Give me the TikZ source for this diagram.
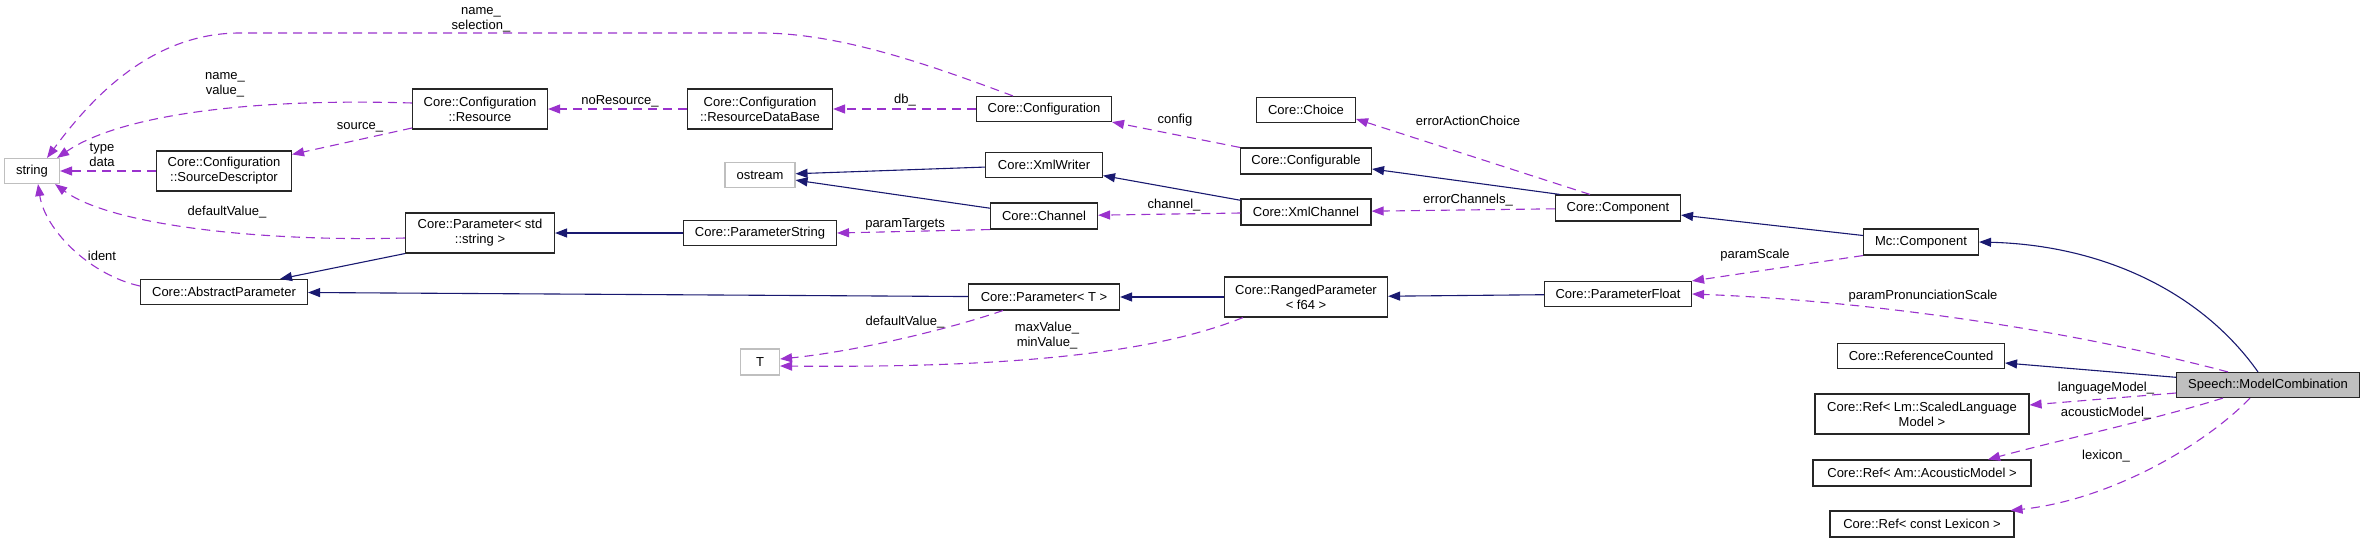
\documentclass[tikz,border=0pt]{standalone}
\usepackage{fontspec}
\setmainfont{Liberation Sans}
\usepackage{tikz}
\usetikzlibrary{arrows.meta}
\definecolor{edgeblue}{HTML}{191970}
\definecolor{edgepurple}{HTML}{9A32CD}
\definecolor{boxgray}{HTML}{BFBFBF}

\begin{document}
\begin{tikzpicture}[x=1pt,y=-1pt,
  cls/.style={draw=black!85,line width=1.1pt,fill=white,inner sep=0pt,
    align=center,font=\fontsize{13}{15}\selectfont},
  ext/.style={cls,draw=boxgray},
  lbl/.style={inner sep=0pt,align=center,font=\fontsize{13}{15}\selectfont},
  inh/.style={draw=edgeblue,line width=1.1pt,-{Triangle[length=12pt,width=9pt]}},
  usage/.style={draw=edgepurple,line width=1.1pt,dash pattern=on 9pt off 6pt,
    -{Triangle[length=12pt,width=9pt]}}]
  \useasboundingbox
    (0,0)
    rectangle
    (2365,543);
  % classes
  \node[ext,minimum width=55,minimum height=25] (str) at (32,171) {string};
  \node[cls,minimum width=135,minimum height=40] (res) at (480,109) {Core::Configuration\\::Resource};
  \node[cls,minimum width=145,minimum height=40] (resdb) at (760,109) {Core::Configuration\\::ResourceDataBase};
  \node[cls,minimum width=135,minimum height=25] (cfg) at (1044,109) {Core::Configuration};
  \node[cls,minimum width=99,minimum height=25] (choice) at (1306,110) {Core::Choice};
  \node[cls,minimum width=131,minimum height=26] (conf) at (1306,161) {Core::Configurable};
  \node[cls,minimum width=117,minimum height=25] (xw) at (1044,165) {Core::XmlWriter};
  \node[ext,minimum width=70,minimum height=25] (ost) at (760,175) {ostream};
  \node[cls,minimum width=107,minimum height=26] (chan) at (1044,216) {Core::Channel};
  \node[cls,minimum width=130,minimum height=26] (xch) at (1306,212) {Core::XmlChannel};
  \node[cls,minimum width=153,minimum height=25] (pstr) at (760,233) {Core::ParameterString};
  \node[cls,minimum width=149,minimum height=40] (pstd) at (480,233) {Core::Parameter< std\\::string >};
  \node[cls,minimum width=135,minimum height=40] (srcd) at (224,171) {Core::Configuration\\::SourceDescriptor};
  \node[cls,minimum width=167,minimum height=25] (abs) at (224,292) {Core::AbstractParameter};
  \node[cls,minimum width=151,minimum height=26] (pt) at (1044,297) {Core::Parameter< T >};
  \node[cls,minimum width=163,minimum height=40] (rng) at (1306,297) {Core::RangedParameter\\< f64 >};
  \node[ext,minimum width=39,minimum height=26] (T) at (760,362) {T};
  \node[cls,minimum width=125,minimum height=26] (comp) at (1618,208) {Core::Component};
  \node[cls,minimum width=147,minimum height=25] (pfl) at (1618,294) {Core::ParameterFloat};
  \node[cls,minimum width=115,minimum height=26] (mcc) at (1921,242) {Mc::Component};
  \node[cls,minimum width=167,minimum height=25] (refc) at (1921,356) {Core::ReferenceCounted};
  \node[cls,minimum width=214,minimum height=40] (lm) at (1922,414) {Core::Ref< Lm::ScaledLanguage\\Model >};
  \node[cls,minimum width=218,minimum height=26] (am) at (1922,473) {Core::Ref< Am::AcousticModel >};
  \node[cls,minimum width=184,minimum height=26] (lex) at (1922,524) {Core::Ref< const Lexicon >};
  \node[cls,fill=boxgray,minimum width=183,minimum height=25] (mc) at (2268,385) {Speech::ModelCombination};
  % base classes
  \draw[inh]
    (pstd.south west)
    --
    ([xshift=56pt]abs.north);
  \draw[inh]
    (xw)
    --
    (ost);
  \draw[inh]
    (chan)
    --
    (ost);
  \draw[inh]
    (pstr)
    --
    (pstd);
  \draw[inh]
    (xch)
    --
    (xw);
  \draw[inh]
    ([xshift=-58pt]comp.north)
    --
    ([yshift=-8pt]conf.east);
  \draw[inh]
    (mcc)
    --
    (comp);
  \draw[inh]
    (pfl)
    --
    (rng);
  \draw[inh]
    (rng)
    --
    (pt);
  \draw[inh]
    (pt)
    --
    (abs);
  \draw[inh]
    (mc)
    --
    (refc);
  \draw[inh]
    ([xshift=-10pt]mc.north)
    .. controls (2200,290) and (2100,245) ..
    (mcc.east);
  % members
  \draw[usage]
    ([xshift=-31pt]cfg.north)
    .. controls (930,65) and (840,33) .. (760,33)
    -- (240,33)
    .. controls (150,33) and (90,100) ..
    ([xshift=15pt]str.north);
  \draw[usage]
    ([yshift=6pt]res.west)
    .. controls (250,98) and (120,115) ..
    ([xshift=-3pt]str.north east);
  \draw[usage]
    ([yshift=-19pt]res.west)
    --
    ([yshift=-4pt]srcd.north east);
  \draw[usage]
    (srcd)
    --
    (str);
  \draw[usage]
    ([yshift=-5pt]pstd.west)
    .. controls (260,242) and (110,225) ..
    ([xshift=-5pt]str.south east);
  \draw[usage]
    ([yshift=6pt]abs.west)
    .. controls (90,275) and (45,230) ..
    ([xshift=6pt]str.south);
  \draw[usage]
    (resdb)
    --
    (res);
  \draw[usage]
    (cfg)
    --
    (resdb);
  \draw[usage]
    (chan.south west)
    --
    (pstr.east);
  \draw[usage]
    (conf.north west)
    --
    (cfg.south east);
  \draw[usage]
    (xch)
    --
    (chan);
  \draw[usage]
    ([xshift=-28pt]comp.north)
    --
    ([yshift=-9pt]choice.east);
  \draw[usage]
    (comp)
    --
    (xch);
  \draw[usage]
    (mcc.south west)
    --
    (pfl.north east);
  \draw[usage]
    ([xshift=-40pt]mc.north)
    .. controls (2050,325) and (1850,300) ..
    (pfl.east);
  \draw[usage]
    ([yshift=-8pt]mc.west)
    --
    ([yshift=9pt]lm.east);
  \draw[usage]
    ([xshift=-45pt]mc.south)
    .. controls (2160,418) and (2060,440) ..
    ([xshift=66pt]am.north);
  \draw[usage]
    ([xshift=-18pt]mc.south)
    .. controls (2205,445) and (2110,500) ..
    ([xshift=-4pt]lex.north east);
  \draw[usage]
    ([xshift=-41pt]pt.south)
    .. controls (940,332) and (850,352) ..
    ([yshift=3pt]T.east);
  \draw[usage]
    ([xshift=-63pt]rng.south)
    .. controls (1150,355) and (1000,368) ..
    ([yshift=-4pt]T.east);
  % member names
  \node[lbl] (lnamesel) at (481,20) {name\_\\selection\_};
  \node[lbl] (lnameval) at (225,85) {name\_\\value\_};
  \node[lbl] (lsource) at (360,127) {source\_};
  \node[lbl] (ltype) at (102,155) {type\\data};
  \node[lbl] (ldefstr) at (227,212) {defaultValue\_};
  \node[lbl] (lident) at (102,256) {ident};
  \node[lbl] (lnores) at (620,101) {noResource\_};
  \node[lbl] (ldb) at (905,100) {db\_};
  \node[lbl] (lptarg) at (905,224) {paramTargets};
  \node[lbl] (lconfig) at (1175,120) {config};
  \node[lbl] (lchannel) at (1174,205) {channel\_};
  \node[lbl] (lerract) at (1468,121) {errorActionChoice};
  \node[lbl] (lerrch) at (1468,200) {errorChannels\_};
  \node[lbl] (lpscale) at (1755,255) {paramScale};
  \node[lbl] (lppron) at (1923,296) {paramPronunciationScale};
  \node[lbl] (ldefT) at (905,322) {defaultValue\_};
  \node[lbl] (lminmax) at (1047,336) {maxValue\_\\minValue\_};
  \node[lbl] (llm) at (2106,388) {languageModel\_};
  \node[lbl] (lam) at (2106,413) {acousticModel\_};
  \node[lbl] (llex) at (2106,456) {lexicon\_};
\end{tikzpicture}
\end{document}
